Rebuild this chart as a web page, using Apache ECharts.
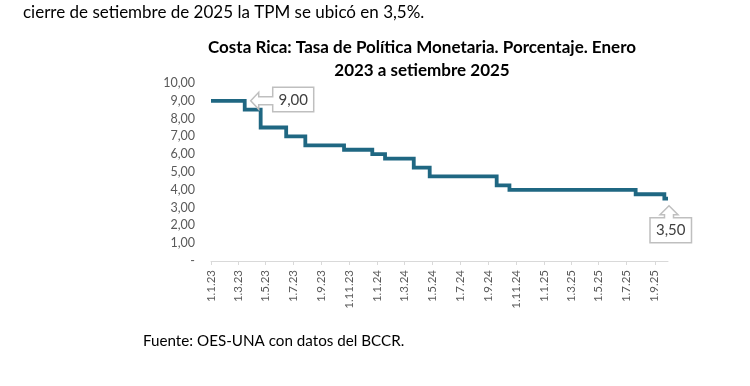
<!DOCTYPE html>
<html>
<head>
<meta charset="utf-8">
<script src="https://cdn.jsdelivr.net/npm/echarts@6/dist/echarts.min.js"></script>
<style>
html,body{margin:0;padding:0;background:#fff;}
#chart{width:750px;height:386px;}
</style>
</head>
<body>
<div id="chart"></div>
<script>
// ---- data ----
const changeDates = ['2023-01-01','2023-03-16','2023-04-20','2023-06-15','2023-07-27','2023-10-20','2023-12-21','2024-01-18','2024-03-21','2024-04-25','2024-09-19','2024-10-17','2025-07-21','2025-09-22','2025-09-30'];
const tpmValues   = [9.00, 8.50, 7.50, 7.00, 6.50, 6.25, 6.00, 5.75, 5.25, 4.75, 4.25, 4.00, 3.75, 3.50, 3.50];
const tickDates = ['2023-01-01','2023-03-01','2023-05-01','2023-07-01','2023-09-01','2023-11-01','2024-01-01','2024-03-01','2024-05-01','2024-07-01','2024-09-01','2024-11-01','2025-01-01','2025-03-01','2025-05-01','2025-07-01','2025-09-01'];
const yTicks = [0,1,2,3,4,5,6,7,8,9,10];
const topText = 'cierre de setiembre de 2025 la TPM se ubicó en 3,5%.';
const titleText = 'Costa Rica: Tasa de Política Monetaria. Porcentaje. Enero\n2023 a setiembre 2025';
const sourceText = 'Fuente: OES-UNA con datos del BCCR.';
const calloutStart = {date: '2023-03-16', value: 9.00, label: '9,00'};
const calloutEnd = {date: '2025-09-30', value: 3.50, label: '3,50'};

const ts = s => Date.parse(s + 'T00:00:00Z');
const seriesData = changeDates.map((d,i) => [ts(d), tpmValues[i]]);
const tickTs = tickDates.map(ts);
const FONT = 'Lato';

const chart = echarts.init(document.getElementById('chart'), null, {renderer:'canvas'});
const option = {
  backgroundColor: '#ffffff',
  animation: false,
  textStyle: {fontFamily: FONT},
  title: [
    {text: topText, left: 23, top: 4, padding: 0, textStyle: {fontFamily: FONT, fontSize: 17, fontWeight: 'normal', color: '#000'}},
    {text: titleText, left: 422, top: 36, padding: 0, textAlign: 'center', textStyle: {fontFamily: FONT, fontSize: 17, fontWeight: 'bold', color: '#000', lineHeight: 23}},
    {text: sourceText, left: 143, top: 334, padding: 0, textStyle: {fontFamily: FONT, fontSize: 15.2, fontWeight: 'normal', color: '#000'}}
  ],
  grid: {left: 211, right: 82, top: 83, bottom: 125, containLabel: false},
  xAxis: {
    type: 'value',
    min: ts(changeDates[0]),
    max: ts(changeDates[changeDates.length-1]),
    axisLine: {show: true, lineStyle: {color: '#d9d9d9', width: 1}},
    axisTick: {show: true, customValues: tickTs, length: 4, lineStyle: {color: '#d9d9d9'}},
    axisLabel: {
      customValues: tickTs,
      rotate: 90,
      margin: 9,
      fontSize: 11.5,
      color: '#595959',
      fontFamily: FONT,
      formatter: v => { const d = new Date(v); return d.getUTCDate() + '.' + (d.getUTCMonth()+1) + '.' + String(d.getUTCFullYear()).slice(2); }
    },
    splitLine: {show: false}
  },
  yAxis: {
    type: 'value',
    min: yTicks[0], max: yTicks[yTicks.length-1], interval: 1,
    axisLine: {show: false},
    axisTick: {show: false},
    splitLine: {show: false},
    axisLabel: {
      fontSize: 12.5, color: '#595959', fontFamily: FONT, margin: 16,
      formatter: v => v === 0 ? '-' : v.toFixed(2).replace('.', ',')
    }
  },
  series: [{
    type: 'line',
    step: 'end',
    data: seriesData,
    showSymbol: false,
    lineStyle: {color: '#1f6782', width: 3.8, cap: 'butt', join: 'miter'},
    z: 2
  }]
};
chart.setOption(option);

// callouts anchored on data coordinates
const pStart = chart.convertToPixel({gridIndex: 0}, [ts(calloutStart.date), calloutStart.value]);
const pEnd = chart.convertToPixel({gridIndex: 0}, [ts(calloutEnd.date), calloutEnd.value]);
const tipL = [pStart[0] + 6, pStart[1]];
const tipU = [pEnd[0] + 1, pEnd[1] + 7];
const lp = [[0,0],[8,-8.5],[8,-4],[22,-4],[22,-13.5],[63,-13.5],[63,11],[22,11],[22,4],[8,4],[8,8.5]].map(p => [tipL[0]+p[0], tipL[1]+p[1]]);
const up = [[0,0],[9,9],[4.5,9],[4.5,12],[22.5,12],[22.5,37],[-19,37],[-19,12],[-4.5,12],[-4.5,9],[-9,9]].map(p => [tipU[0]+p[0], tipU[1]+p[1]]);
chart.setOption({
  graphic: [
    {type: 'polygon', shape: {points: lp}, style: {fill: '#ffffff', stroke: '#bfbfbf', lineWidth: 1.5}, z: 10},
    {type: 'text', x: tipL[0] + 42.5, y: tipL[1] - 1, style: {text: calloutStart.label, fontSize: 15, fontFamily: FONT, fill: '#404040', align: 'center', verticalAlign: 'middle'}, z: 11},
    {type: 'polygon', shape: {points: up}, style: {fill: '#ffffff', stroke: '#bfbfbf', lineWidth: 1.5}, z: 10},
    {type: 'text', x: tipU[0] + 1.75, y: tipU[1] + 24.5, style: {text: calloutEnd.label, fontSize: 15, fontFamily: FONT, fill: '#404040', align: 'center', verticalAlign: 'middle'}, z: 11}
  ]
});
</script>
</body>
</html>
